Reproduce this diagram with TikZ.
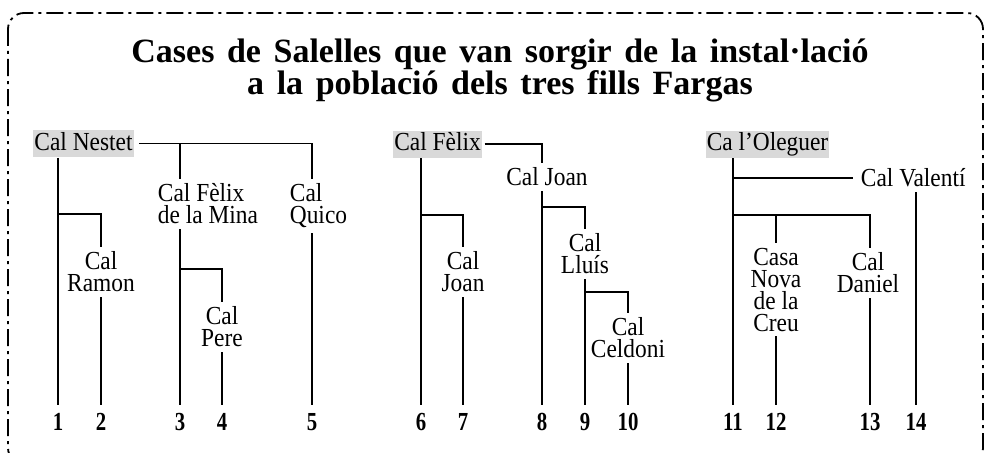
\documentclass[tikz,border=0pt]{standalone}
\usepackage{fontspec}
\setmainfont{Liberation Serif}
\newfontfamily\housefont[FakeStretch=0.9]{Liberation Serif}
\newfontfamily\numfont[FakeStretch=0.8]{Liberation Serif}
\newcommand\titlefont{\fontsize{34}{27}\selectfont\bfseries\spaceskip 0.37em plus 0.1em\relax}
\usetikzlibrary{positioning}
\tikzset{
	house/.style={font=\housefont\fontsize{26}{22}\selectfont, align=center, inner sep=4pt},
	root/.style={house, fill=black!15, inner xsep=1pt, inner ysep=1pt, text height=19pt, text depth=6pt},
	num/.style={font=\numfont\fontsize{26}{26}\selectfont\bfseries, inner xsep=0pt, inner ysep=7pt, anchor=base},
	heading/.style={font=\titlefont, align=center, inner sep=0pt, anchor=north},
	frame/.style={dash pattern=on 17pt off 5pt on 3pt off 5pt, rounded corners=16pt}}

\begin{document}
\begin{tikzpicture}[x=1pt, y=-1pt, line width=1.8pt]
		
		\useasboundingbox (0,0) rectangle (984,452);
		\clip (0,0) rectangle (984,452);
		\draw[frame] (8,13) rectangle (983,464);
		
		\node[heading] (title) at (500,38) {Cases de Salelles que van sorgir de la instal·lació\\a la població dels tres fills Fargas};
		
		\node[root] (nestet) at (83.5,143.5) {Cal Nestet};
		\node[house, anchor=north west, align=left] (mina) at (153,179) {Cal Fèlix\\de la Mina};
		\node[house, anchor=north west, align=left] (quico) at (285,179) {Cal\\Quico};
		\node[house, anchor=north] (ramon) at (101,247) {Cal\\Ramon};
		\node[house, anchor=north] (pere) at (222,302) {Cal\\Pere};
		
		\node[root] (felix) at (437.5,144) {Cal Fèlix};
		\node[house, anchor=north] (joanb) at (547,163) {Cal Joan};
		\node[house, anchor=north] (joana) at (463,247) {Cal\\Joan};
		\node[house, anchor=north] (lluis) at (585,229) {Cal\\Lluís};
		\node[house, anchor=north] (celdoni) at (628,313) {Cal\\Celdoni};
		
		\node[root] (oleguer) at (767.5,144) {Ca l’Oleguer};
		\node[house, anchor=west] (valenti) at (856,178) {Cal Valentí};
		\node[house, anchor=north] (casa) at (776,243) {Casa\\Nova\\de la\\Creu};
		\node[house, anchor=north] (daniel) at (868,248) {Cal\\Daniel};
		
		\node[num] (n1) at (58,430) {1};
		\node[num] (n2) at (101,430) {2};
		\node[num] (n3) at (180,430) {3};
		\node[num] (n4) at (222,430) {4};
		\node[num] (n5) at (312,430) {5};
		\node[num] (n6) at (421,430) {6};
		\node[num] (n7) at (463,430) {7};
		\node[num] (n8) at (542,430) {8};
		\node[num] (n9) at (585,430) {9};
		\node[num] (n10) at (628,430) {10};
		\node[num] (n11) at (733,430) {11};
		\node[num] (n12) at (776,430) {12};
		\node[num] (n13) at (870,430) {13};
		\node[num] (n14) at (916,430) {14};
		
		\coordinate (b1) at (58,214);
		\coordinate (b3) at (180,269);
		\coordinate (b6) at (421,215);
		\coordinate (b8) at (542,207);
		\coordinate (b9) at (585,292);
		\coordinate (b11) at (733,215);
		
		\draw[shorten <=5pt] (nestet.east) -| (n5 |- quico.north);
		\draw (n3 |- nestet.east) -- (n3 |- mina.north);
		\draw (n1 |- nestet.south) -- (n1.north);
		\draw (b1) -| (ramon.north);
		\draw (ramon.south) -- (n2.north);
		\draw (n3 |- mina.south) -- (n3.north);
		\draw (b3) -| (pere.north);
		\draw (pere.south) -- (n4.north);
		\draw (n5 |- quico.south) -- (n5.north);
		
		\draw[shorten <=2pt] (felix.east) -| (n8 |- joanb.north);
		\draw (n6 |- felix.south) -- (n6.north);
		\draw (b6) -| (joana.north);
		\draw (joana.south) -- (n7.north);
		\draw (n8 |- joanb.south) -- (n8.north);
		\draw (b8) -| (lluis.north);
		\draw (lluis.south) -- (n9.north);
		\draw (b9) -| (celdoni.north);
		\draw (celdoni.south) -- (n10.north);
		
		\draw (n11 |- oleguer.south) -- (n11.north);
		\draw[shorten >=3pt] (n11 |- valenti.west) -- (valenti.west);
		\draw (n14 |- valenti.south) -- (n14.north);
		\draw (b11) -| (n13 |- daniel.north);
		\draw (casa.north |- b11) -- (casa.north);
		\draw (casa.south) -- (n12.north);
		\draw (n13 |- daniel.south) -- (n13.north);
		
	\end{tikzpicture}
\end{document}
